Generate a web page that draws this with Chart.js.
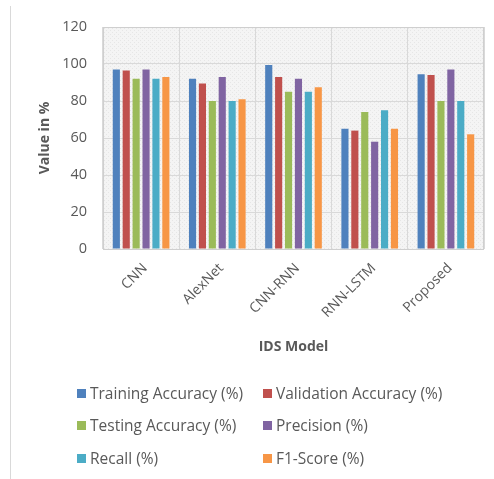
<!DOCTYPE html>
<html>
<head>
<meta charset="utf-8">
<script src="https://cdn.jsdelivr.net/npm/chart.js@4"></script>
<style>
  html, body { margin: 0; padding: 0; background: #fff; }
  #wrap { position: relative; width: 494px; height: 479px; overflow: hidden; }
  #frame { position: absolute; left: 10px; top: 6px; bottom: 0; border-left: 1px solid #d9d9d9; }
  #chartBox { position: absolute; left: 0; top: 0; width: 494px; height: 370px; }
  #legend { position: absolute; left: 0; top: 0; width: 494px; height: 479px;
            font-family: "Open Sans", sans-serif; font-size: 15.5px; color: #595959; pointer-events: none; }
  .item { position: absolute; display: flex; align-items: center; height: 20px; white-space: nowrap; }
  .sw { width: 9px; height: 9px; margin-right: 4px; flex: none; }
</style>
</head>
<body>
<div id="wrap">
  <div id="frame"></div>
  <div id="chartBox"><canvas id="c"></canvas></div>
  <div id="legend"></div>
</div>
<script>
// IDS models compared
const models = ['CNN', 'AlexNet', 'CNN-RNN', 'RNN-LSTM', 'Proposed'];

// Metric values (%) per model
const trainingAccuracy   = [97, 92, 99.5, 65, 94.5];
const validationAccuracy = [96.5, 89.5, 93, 64, 94];
const testingAccuracy    = [92, 80, 85, 74, 80];
const precision          = [97, 93, 92, 58, 97];
const recall             = [92, 80, 85, 75, 80];
const f1Score            = [93, 81, 87.5, 65, 62];

const seriesNames = ['Training Accuracy (%)', 'Validation Accuracy (%)', 'Testing Accuracy (%)',
                     'Precision (%)', 'Recall (%)', 'F1-Score (%)'];
const seriesValues = [trainingAccuracy, validationAccuracy, testingAccuracy, precision, recall, f1Score];
const seriesColors = ['#4F81BD', '#C0504D', '#9BBB59', '#8064A2', '#4BACC6', '#F79646'];

// Y axis ticks
const yMin = 0, yMax = 120, yStep = 20;

const textColor = '#595959';
const gridColor = '#d9d9d9';

// Light hatched fill for the plot area
function makePattern(ctx) {
  const p = document.createElement('canvas');
  p.width = 4; p.height = 4;
  const g = p.getContext('2d');
  g.fillStyle = '#f4f4f4';
  g.fillRect(0, 0, 4, 4);
  g.fillStyle = '#e6e6e6';
  g.fillRect(0, 0, 1, 1);
  g.fillRect(2, 2, 1, 1);
  return ctx.createPattern(p, 'repeat');
}

const plotBackground = {
  id: 'plotBackground',
  beforeDraw(chart) {
    const { ctx, chartArea: a } = chart;
    ctx.save();
    ctx.fillStyle = makePattern(ctx);
    ctx.fillRect(a.left, a.top, a.right - a.left, a.bottom - a.top);
    ctx.restore();
  },
  afterDatasetsDraw(chart) {
    const { ctx, chartArea: a } = chart;
    ctx.save();
    ctx.strokeStyle = '#cfcfcf';
    ctx.lineWidth = 1;
    ctx.strokeRect(Math.round(a.left) + 0.5, Math.round(a.top) + 0.5,
                   Math.round(a.right - a.left) - 1, Math.round(a.bottom - a.top));
    ctx.restore();
  }
};

const chart = new Chart(document.getElementById('c'), {
  type: 'bar',
  data: {
    labels: models,
    datasets: seriesValues.map((vals, i) => ({
      label: seriesNames[i],
      data: vals,
      backgroundColor: seriesColors[i],
      categoryPercentage: 0.78,
      barPercentage: 0.72
    }))
  },
  options: {
    responsive: true,
    maintainAspectRatio: false,
    animation: false,
    layout: { padding: { top: 27, right: 10, bottom: 0, left: 0 } },
    plugins: {
      legend: { display: false },
      tooltip: { enabled: false }
    },
    scales: {
      x: {
        grid: { display: true, offset: true, color: gridColor, drawTicks: false },
        border: { display: false },
        ticks: {
          color: textColor,
          font: { family: 'Open Sans', size: 14 },
          minRotation: 45, maxRotation: 45,
          padding: 11,
          labelOffset: 4
        },
        title: {
          display: true, text: 'IDS Model', color: textColor,
          font: { family: 'Open Sans', size: 14, weight: 'bold' },
          padding: { top: 0, bottom: 15 }
        },
        afterFit(scale) { scale.height = 121; }
      },
      y: {
        min: yMin, max: yMax,
        ticks: {
          stepSize: yStep, color: textColor,
          font: { family: 'Open Sans', size: 14.5 },
          padding: 16
        },
        grid: { color: gridColor, drawTicks: false },
        border: { display: false },
        title: {
          display: true, text: 'Value in %', color: textColor,
          font: { family: 'Open Sans', size: 14, weight: 'bold' },
          padding: { top: 37, bottom: 0 }
        },
        afterFit(scale) { scale.width = 103; }
      }
    }
  },
  plugins: [plotBackground]
});

// Two-column legend built from the chart's datasets
const legendEl = document.getElementById('legend');
const colX = [77, 263];
const rowY = [393, 425, 458];
chart.data.datasets.forEach((ds, i) => {
  const item = document.createElement('div');
  item.className = 'item';
  item.style.left = colX[i % 2] + 'px';
  item.style.top = (rowY[Math.floor(i / 2)] - 10) + 'px';
  const sw = document.createElement('span');
  sw.className = 'sw';
  sw.style.background = ds.backgroundColor;
  const tx = document.createElement('span');
  tx.textContent = ds.label;
  item.appendChild(sw);
  item.appendChild(tx);
  legendEl.appendChild(item);
});
</script>
</body>
</html>
